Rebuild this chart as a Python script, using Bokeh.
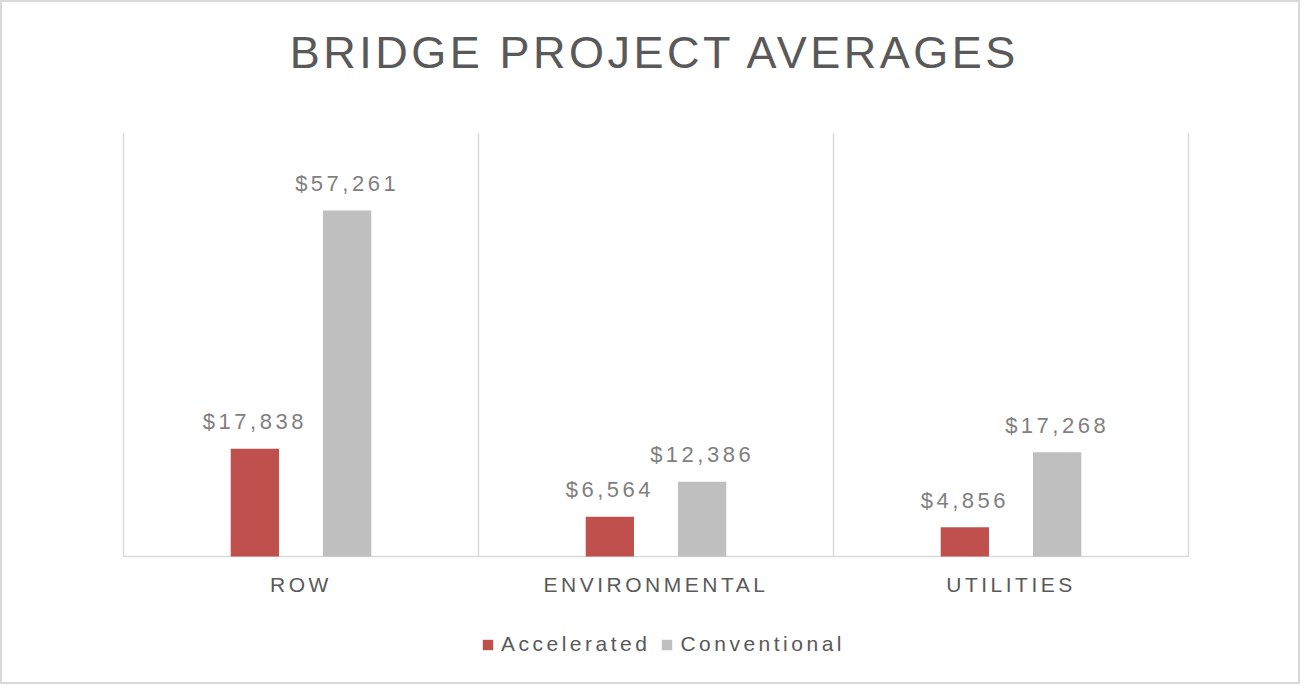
from bokeh.plotting import figure
from bokeh.models import Range1d, ColumnDataSource, Legend, LegendItem, Label
from bokeh.core.properties import value
from bokeh.embed import file_html
from bokeh.resources import INLINE

categories = ["ROW", "ENVIRONMENTAL", "UTILITIES"]
accelerated = [17838, 6564, 4856]
conventional = [57261, 12386, 17268]
series_names = ["Accelerated", "Conventional"]
series_colors = ["#C0504D", "#BFBFBF"]
title_text = "BRIDGE PROJECT AVERAGES"
y_max = 70000

FONT = "Liberation Sans"
LS = 3.5  # letter spacing (px)

# layout geometry (canvas pixels)
W, H = 1300, 684
CW, CH = W, H
LEFT_PX, RIGHT_PX = 121, 1186      # category area
BASE_PX, TOP_PX = 554, 131         # y=0 and y=y_max
n = len(categories)
xpp = (RIGHT_PX - LEFT_PX) / n     # px per category
ypp = (BASE_PX - TOP_PX) / y_max   # px per unit
x_range = Range1d(-LEFT_PX / xpp, n + (CW - RIGHT_PX) / xpp)
y_range = Range1d(-(CH - BASE_PX) / ypp, y_max + TOP_PX / ypp)

p = figure(width=W, height=H, output_backend="svg", toolbar_location=None,
           x_range=x_range, y_range=y_range, min_border=0,
           min_border_left=0, min_border_right=0, min_border_top=0, min_border_bottom=0)
p.styles = {"border": "2px solid #D9D9D9", "box-sizing": "border-box",
            "letter-spacing": "%spx" % LS}
p.outline_line_color = None
p.background_fill_color = "white"
p.border_fill_color = "white"
p.xaxis.visible = False
p.yaxis.visible = False
p.grid.visible = False

def shift(s):
    return -len(s) * LS / 2.0

# title
p.add_layout(Label(x=n / 2, y=(BASE_PX - 50) / ypp, text=title_text,
                   text_align="center", text_baseline="middle",
                   x_offset=shift(title_text), text_font=FONT,
                   text_font_size="45px", text_color="#595959"))

centers = [i + 0.5 for i in range(n)]
bounds = list(range(n + 1))

# separators and baseline
p.segment(x0=bounds, y0=[0] * len(bounds), x1=bounds, y1=[y_max] * len(bounds),
          line_color="#D9D9D9", line_width=1.5)
p.segment(x0=[0], y0=[0], x1=[n], y1=[0], line_color="#D9D9D9", line_width=1.5)

offset = 0.13
bw = 0.136
lab_a = ["${:,}".format(v) for v in accelerated]
lab_c = ["${:,}".format(v) for v in conventional]
src_a = ColumnDataSource(dict(x=[c - offset for c in centers], top=accelerated,
                              lab=lab_a, xo=[shift(s) for s in lab_a]))
src_c = ColumnDataSource(dict(x=[c + offset for c in centers], top=conventional,
                              lab=lab_c, xo=[shift(s) for s in lab_c]))

ra = p.vbar(x="x", top="top", width=bw, bottom=0, source=src_a,
            fill_color=series_colors[0], line_color=None)
rc = p.vbar(x="x", top="top", width=bw, bottom=0, source=src_c,
            fill_color=series_colors[1], line_color=None)

for src in (src_a, src_c):
    p.text(x="x", y="top", text="lab", source=src, text_align="center",
           text_baseline="middle", x_offset="xo", y_offset=-27,
           text_font=value(FONT), text_font_size="22px", text_color="#7F7F7F")

# category labels
cat_src = ColumnDataSource(dict(x=centers, y=[0] * n, t=categories,
                                xo=[shift(s) for s in categories]))
p.text(x="x", y="y", text="t", source=cat_src, text_align="center",
       text_baseline="middle", x_offset="xo", y_offset=28,
       text_font=value(FONT), text_font_size="21px", text_color="#595959")

legend = Legend(items=[LegendItem(label=series_names[0], renderers=[ra]),
                       LegendItem(label=series_names[1], renderers=[rc])],
                orientation="horizontal", location=(479, 30),
                border_line_color=None, background_fill_alpha=0,
                label_text_font=FONT, label_text_font_size="21px",
                label_text_color="#595959", glyph_width=13, glyph_height=13,
                label_standoff=7, spacing=10, padding=0, margin=0)
p.add_layout(legend, "center")

open("out.html", "w").write(file_html(p, INLINE))
